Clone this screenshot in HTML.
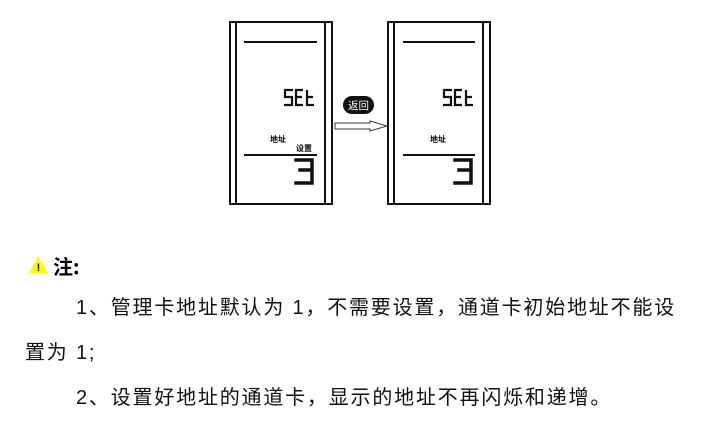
<html><head><style>
body{margin:0;width:707px;height:421px;background:#fff;position:relative;overflow:hidden;font-family:"Liberation Sans","Noto Sans CJK SC",sans-serif}
.t{position:absolute;font-size:20px;color:#111;white-space:nowrap;letter-spacing:1.8px;line-height:24px}
</style></head><body>
<svg width="707" height="421" style="position:absolute;left:0;top:0">
<g fill="none" stroke="#111" stroke-width="2">
<rect x="230" y="22" width="102" height="182"/>
<line x1="236" y1="22" x2="236" y2="204"/><line x1="325" y1="22" x2="325" y2="204"/>
<line x1="244" y1="42" x2="317" y2="42"/><line x1="244" y1="155" x2="317" y2="155"/>
<rect x="388" y="22" width="102" height="182"/>
<line x1="394" y1="22" x2="394" y2="204"/><line x1="483" y1="22" x2="483" y2="204"/>
<line x1="403" y1="42" x2="475" y2="42"/><line x1="403" y1="155" x2="475" y2="155"/>
</g>
<g stroke="#111" stroke-width="3.5" fill="none" stroke-linecap="square">
<path d="M296 160 H312 V170 H300 M312 170 V183 H296"/>
<path d="M455 160 H471 V170 H459 M471 170 V183 H455"/>
</g>
<g stroke="#111" stroke-width="2.2" fill="none">
<path d="M293 90 H285 V97 H292 V105 H284"/><path d="M303 90 H296 V97 H302 M296 97 V105 H303"/><path d="M307 90 V105 H314 M307 97 H313"/>
<path d="M452 90 H444 V97 H451 V105 H443"/><path d="M462 90 H455 V97 H461 M455 97 V105 H462"/><path d="M466 90 V105 H473 M466 97 H472"/>
</g>
<path d="M335 123 H370 V121 L387 126 L370 131 V129 H335 Z" fill="#fff" stroke="#333" stroke-width="1"/>
<rect x="343" y="96" width="31" height="18" rx="9" fill="#111"/>
<text x="358.5" y="109" font-size="10.5" fill="#fff" text-anchor="middle" font-family="Noto Sans CJK SC,sans-serif">返回</text>
<text x="270" y="142" font-size="8" font-weight="bold" font-family="Noto Sans CJK SC,sans-serif">地址</text>
<text x="296" y="151" font-size="8" font-weight="bold" font-family="Noto Sans CJK SC,sans-serif">设置</text>
<text x="430" y="142" font-size="8" font-weight="bold" font-family="Noto Sans CJK SC,sans-serif">地址</text>
<polygon points="38,256 29,273 48,273" fill="#ff0"/>
<text x="38.5" y="271" font-size="11" font-weight="bold" text-anchor="middle">!</text>
<text x="53" y="274" font-size="20" font-weight="bold" font-family="Noto Sans CJK SC,sans-serif">注:</text>
</svg>
<div class="t" style="left:76px;top:296px">1、管理卡地址默认为 1，不需要设置，通道卡初始地址不能设</div>
<div class="t" style="left:25px;top:341px">置为 1;</div>
<div class="t" style="left:76px;top:386px">2、设置好地址的通道卡，显示的地址不再闪烁和递增。</div>
</body></html>
